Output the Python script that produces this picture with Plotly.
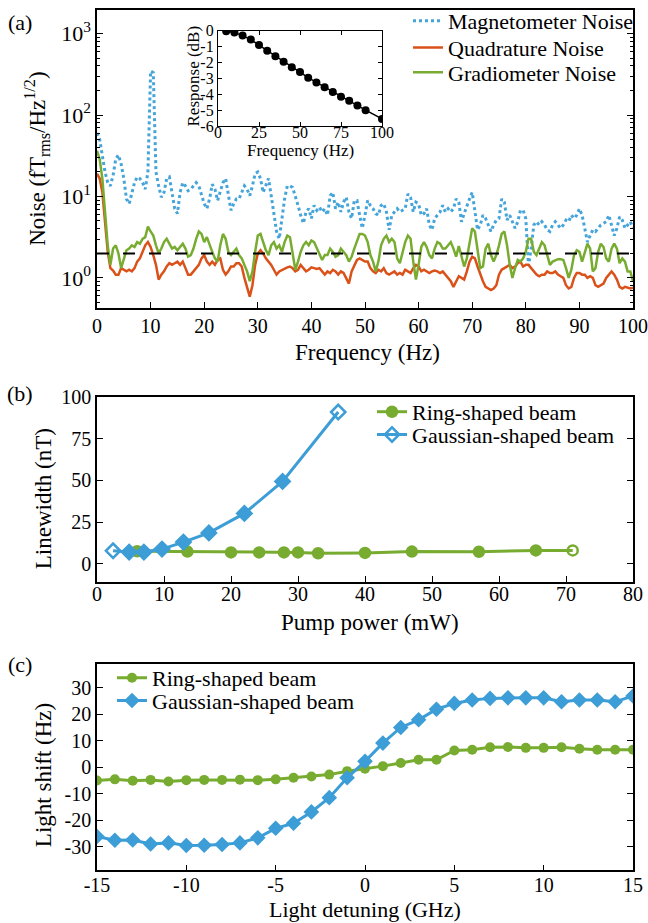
import numpy as np
import plotly.graph_objects as go

# ---------------- Panel (a) data: noise spectra (log10 of fT_rms/Hz^1/2, read every 0.5 Hz) -------------
freq_hz = np.linspace(0, 100, 201)

magnetometer_log10 = [
    1.78, 1.70, 1.50, 1.30, 1.17, 1.13, 1.26, 1.46, 1.51, 1.40,
    1.22, 0.97, 0.91, 1.05, 1.17, 1.24, 1.22, 1.17, 1.09, 1.30,
    2.54, 2.52, 1.30, 1.13, 0.99, 1.05, 1.22, 1.24, 1.05, 0.85,
    0.79, 1.05, 1.17, 1.13, 1.07, 1.09, 1.13, 1.17, 1.13, 1.01,
    0.91, 0.85, 0.97, 1.15, 1.09, 0.95, 1.05, 1.17, 1.22, 1.01,
    0.83, 0.91, 0.97, 0.97, 1.05, 1.13, 1.09, 1.01, 1.13, 1.28,
    1.30, 1.22, 1.05, 1.13, 1.22, 1.01, 0.81, 0.57, 0.48, 0.73,
    0.97, 1.13, 1.13, 1.11, 1.01, 0.89, 0.77, 0.67, 0.81, 0.85,
    0.73, 0.89, 0.83, 0.87, 0.81, 0.85, 0.77, 1.01, 1.05, 0.85,
    0.93, 0.81, 0.93, 0.99, 0.81, 0.73, 0.95, 0.95, 0.77, 0.61,
    0.77, 0.95, 0.89, 0.85, 0.79, 0.77, 0.89, 0.91, 0.81, 0.59,
    0.77, 0.81, 0.85, 0.81, 0.83, 0.85, 1.03, 0.99, 0.81, 0.93,
    0.91, 0.77, 0.79, 0.85, 0.65, 0.59, 0.73, 0.77, 0.81, 0.89,
    0.81, 0.85, 0.81, 0.85, 0.97, 0.93, 0.69, 0.79, 0.89, 0.97,
    1.05, 0.81, 0.59, 0.65, 0.77, 0.73, 0.65, 0.57, 0.65, 0.71,
    0.73, 0.97, 0.93, 0.71, 0.77, 0.69, 0.61, 0.69, 0.83, 0.83,
    0.73, 0.15, 0.36, 0.65, 0.69, 0.65, 0.69, 0.65, 0.59, 0.57,
    0.65, 0.69, 0.65, 0.61, 0.65, 0.71, 0.69, 0.77, 0.73, 0.77,
    0.85, 0.77, 0.61, 0.44, 0.52, 0.59, 0.57, 0.61, 0.65, 0.67,
    0.69, 0.77, 0.65, 0.52, 0.61, 0.75, 0.71, 0.61, 0.65, 0.69,
    0.61,
]

quadrature_log10 = [
    1.28, 1.22, 1.05, 0.73, 0.32, 0.12, 0.09, 0.04, 0.04, 0.12,
    0.10, 0.08, 0.10, 0.08, 0.12, 0.20, 0.24, 0.32, 0.40, 0.44,
    0.38, 0.28, 0.16, -0.02, 0.04, 0.08, 0.14, 0.18, 0.16, 0.18,
    0.20, 0.16, 0.20, 0.12, 0.04, 0.04, 0.08, 0.12, 0.16, 0.24,
    0.28, 0.20, 0.16, 0.20, 0.16, 0.22, 0.24, 0.10, 0.04, 0.08,
    0.14, 0.14, 0.18, 0.18, 0.14, 0.00, -0.13, -0.23, -0.09, 0.16,
    0.30, 0.34, 0.30, 0.24, 0.20, 0.16, 0.10, 0.04, 0.08, 0.10,
    0.12, 0.13, 0.14, 0.12, 0.08, 0.10, 0.16, 0.12, 0.08, 0.10,
    0.13, 0.12, 0.11, 0.12, 0.08, 0.04, 0.08, 0.06, 0.10, 0.08,
    0.04, 0.08, 0.06, 0.00, -0.07, 0.08, 0.16, 0.22, 0.24, 0.22,
    0.20, 0.20, 0.12, 0.08, 0.06, 0.10, 0.08, 0.12, 0.06, 0.04,
    0.06, 0.08, 0.04, 0.06, 0.04, 0.10, 0.08, 0.06, 0.12, 0.16,
    0.14, 0.08, 0.10, 0.08, 0.06, 0.08, 0.09, 0.08, 0.06, 0.08,
    0.04, 0.00, -0.04, -0.11, -0.05, 0.02, 0.00, -0.02, 0.08, 0.20,
    0.26, 0.24, 0.14, 0.04, -0.04, -0.11, -0.13, -0.15, -0.13, -0.09,
    0.04, 0.10, 0.12, 0.14, 0.16, 0.12, 0.14, 0.18, 0.20, 0.14,
    0.16, 0.16, 0.12, 0.08, 0.04, 0.02, 0.04, 0.04, 0.08, 0.06,
    0.06, 0.08, 0.04, 0.02, 0.00, -0.09, -0.13, -0.11, 0.00, 0.06,
    0.06, 0.04, 0.04, 0.00, 0.02, 0.00, -0.09, -0.11, -0.09, -0.07,
    0.00, 0.04, 0.08, 0.04, -0.02, -0.11, -0.13, -0.11, -0.12, -0.13,
    -0.12,
]

gradiometer_log10 = [
    1.56, 1.46, 1.22, 0.81, 0.40, 0.16, 0.36, 0.40, 0.30, 0.12,
    0.24, 0.34, 0.36, 0.40, 0.38, 0.44, 0.42, 0.48, 0.50, 0.63,
    0.57, 0.52, 0.40, 0.30, 0.36, 0.44, 0.48, 0.42, 0.36, 0.38,
    0.34, 0.38, 0.42, 0.36, 0.26, 0.28, 0.36, 0.48, 0.57, 0.54,
    0.44, 0.50, 0.40, 0.32, 0.24, 0.20, 0.40, 0.54, 0.48, 0.32,
    0.28, 0.32, 0.36, 0.28, 0.24, 0.16, 0.08, -0.04, 0.08, 0.32,
    0.52, 0.54, 0.44, 0.34, 0.28, 0.40, 0.44, 0.36, 0.40, 0.32,
    0.44, 0.52, 0.50, 0.28, 0.10, 0.20, 0.32, 0.40, 0.44, 0.40,
    0.46, 0.44, 0.36, 0.28, 0.22, 0.28, 0.28, 0.36, 0.32, 0.26,
    0.28, 0.36, 0.32, 0.28, 0.20, 0.26, 0.36, 0.44, 0.54, 0.54,
    0.52, 0.44, 0.28, 0.20, 0.08, 0.20, 0.40, 0.48, 0.52, 0.44,
    0.48, 0.44, 0.24, 0.18, 0.32, 0.44, 0.52, 0.48, 0.20, -0.02,
    0.16, 0.38, 0.44, 0.38, 0.28, 0.24, 0.36, 0.44, 0.42, 0.36,
    0.36, 0.40, 0.44, 0.36, 0.26, 0.39, 0.28, 0.14, 0.24, 0.44,
    0.61, 0.57, 0.36, 0.12, 0.14, 0.36, 0.42, 0.28, 0.20, 0.28,
    0.40, 0.54, 0.57, 0.40, 0.16, 0.00, 0.12, 0.22, 0.20, 0.24,
    0.32, 0.48, 0.48, 0.32, 0.28, 0.36, 0.44, 0.40, 0.28, 0.16,
    0.20, 0.22, 0.23, 0.23, 0.22, 0.12, 0.00, 0.10, 0.28, 0.34,
    0.32, 0.20, 0.32, 0.42, 0.36, 0.08, 0.12, 0.32, 0.42, 0.38,
    0.24, 0.20, 0.36, 0.42, 0.36, 0.18, 0.24, 0.20, 0.08, 0.08,
    -0.04,
]

reference_level = 2.0
reference_span = [0, 100]

# inset: frequency response
inset_freq = [5, 10, 15, 20, 25, 30, 35, 40, 45, 50, 55, 60, 65, 70, 75, 80, 85, 90, 100]
inset_resp_db = [-0.02, -0.1, -0.3, -0.55, -0.9, -1.25, -1.6, -1.95, -2.3, -2.6,
                 -2.95, -3.25, -3.55, -3.85, -4.15, -4.4, -4.7, -5.0, -5.55]

# ---------------- Panel (b) data ----------------
ring_power_mw = [6.0, 13.5, 20.0, 24.2, 27.9, 30.0, 33.0, 40.0, 47.0, 57.0, 65.5, 71.0]
ring_linewidth_nt = [7.5, 7.3, 6.8, 6.8, 6.8, 6.8, 6.3, 6.5, 7.3, 7.2, 8.0, 8.0]
gauss_power_mw = [2.4, 4.8, 7.0, 9.7, 12.9, 16.7, 22.0, 27.7, 36.0]
gauss_linewidth_nt = [7.8, 7.0, 7.0, 8.8, 13.0, 18.5, 30.2, 49.4, 91.0]

# ---------------- Panel (c) data ----------------
detuning_ghz = list(range(-15, 16))
ring_shift_hz = [-5.0, -4.6, -5.1, -4.8, -5.4, -4.9, -4.8, -4.8, -4.7, -4.9, -4.6, -4.0, -3.5, -2.8, -1.5,
                 -0.6, 0.4, 1.6, 2.8, 2.8, 6.3, 6.6, 7.5, 7.6, 7.3, 7.3, 7.5, 7.0, 6.6, 6.6, 6.6]
gauss_shift_hz = [-26.2, -27.6, -27.5, -29.0, -28.6, -29.6, -29.5, -29.2, -28.6, -26.7, -23.1, -21.2, -16.9,
                  -11.5, -4.0, 2.2, 9.1, 15.0, 17.9, 21.9, 24.1, 25.4, 26.0, 26.2, 26.2, 26.2, 24.7, 25.4,
                  25.4, 24.7, 26.9]

# ---------------- styling ----------------
FONT = "Liberation Serif, Times New Roman, Times, Nimbus Roman, DejaVu Serif, serif"
BLUE_DOT = "#45A5DA"
ORANGE = "#DA5119"
GREEN = "#77AC30"
BLUE = "#3D9DD6"
W, H = 648, 923


def px_x(p):
    return p / W


def px_y(p):
    return 1 - p / H


XDOM = [px_x(97), px_x(633)]
A_DOM = [px_y(303), px_y(3)]
B_DOM = [px_y(579), px_y(393)]
C_DOM = [px_y(870), px_y(662)]
INSET_X = [px_x(218), px_x(382)]
INSET_Y = [px_y(120), px_y(24)]

fig = go.Figure()


def leg(x, y):
    return dict(x=px_x(x), y=px_y(y), xanchor="left", yanchor="middle", bgcolor="rgba(0,0,0,0)",
                font=dict(family=FONT, size=22, color="black"), itemwidth=30, borderwidth=0)


# panel (a)
fig.add_trace(go.Scatter(x=freq_hz, y=10 ** np.array(magnetometer_log10), mode="lines",
                         name="Magnetometer Noise", line=dict(color=BLUE_DOT, width=3, dash="3px,3px"),
                         xaxis="x", yaxis="y", legend="legend"))
fig.add_trace(go.Scatter(x=freq_hz, y=10 ** np.array(quadrature_log10), mode="lines",
                         name="Quadrature Noise", line=dict(color=ORANGE, width=2.5),
                         xaxis="x", yaxis="y", legend="legend2"))
fig.add_trace(go.Scatter(x=freq_hz, y=10 ** np.array(gradiometer_log10), mode="lines",
                         name="Gradiometer Noise", line=dict(color=GREEN, width=2.5),
                         xaxis="x", yaxis="y", legend="legend3"))
fig.add_trace(go.Scatter(x=reference_span, y=[reference_level] * 2, mode="lines", showlegend=False,
                         line=dict(color="black", width=2, dash="12px,14px"), xaxis="x", yaxis="y"))

# inset
fig.add_trace(go.Scatter(x=inset_freq, y=inset_resp_db, mode="lines+markers", showlegend=False,
                         line=dict(color="black", width=1.5), marker=dict(color="black", size=8),
                         xaxis="x4", yaxis="y4"))

# panel (b)
ring_b_symbols = ["circle"] * (len(ring_power_mw) - 1) + ["circle-open"]
gauss_b_symbols = ["diamond-open"] + ["diamond"] * (len(gauss_power_mw) - 2) + ["diamond-open"]
fig.add_trace(go.Scatter(x=ring_power_mw, y=ring_linewidth_nt, mode="lines+markers", name="Ring-shaped beam",
                         line=dict(color=GREEN, width=3),
                         marker=dict(symbol=ring_b_symbols, size=10, color=GREEN, line=dict(color=GREEN, width=2.5)),
                         xaxis="x2", yaxis="y2", legend="legend4"))
fig.add_trace(go.Scatter(x=gauss_power_mw, y=gauss_linewidth_nt, mode="lines+markers", name="Gaussian-shaped beam",
                         line=dict(color=BLUE, width=3),
                         marker=dict(symbol=gauss_b_symbols, size=11, color=BLUE, line=dict(color=BLUE, width=2.5)),
                         xaxis="x2", yaxis="y2", legend="legend5"))

# panel (c)
fig.add_trace(go.Scatter(x=detuning_ghz, y=ring_shift_hz, mode="lines+markers", name="Ring-shaped beam",
                         line=dict(color=GREEN, width=3), marker=dict(symbol="circle", size=10, color=GREEN),
                         xaxis="x3", yaxis="y3", legend="legend6"))
fig.add_trace(go.Scatter(x=detuning_ghz, y=gauss_shift_hz, mode="lines+markers", name="Gaussian-shaped beam",
                         line=dict(color=BLUE, width=3), marker=dict(symbol="diamond", size=12, color=BLUE),
                         xaxis="x3", yaxis="y3", legend="legend7"))

axis_common = dict(showline=True, linecolor="black", linewidth=1.5, ticks="inside", ticklen=6,
                   tickwidth=1.2, tickcolor="black", showgrid=False, zeroline=False, automargin=False,
                   tickfont=dict(family=FONT, size=20, color="black"))

fig.update_layout(
    template="none",
    width=W, height=H, margin=dict(l=0, r=0, t=0, b=0, pad=0), autosize=False,
    paper_bgcolor="white", plot_bgcolor="white",
    font=dict(family=FONT, color="black"),
    xaxis=dict(axis_common, domain=XDOM, anchor="y", range=[0, 100], tickvals=list(range(0, 101, 10)),
               mirror=True),
    yaxis=dict(axis_common, domain=A_DOM, anchor="x", type="log", range=[-0.366, 3.29],
               tickvals=[1, 10, 100, 1000],
               ticktext=["10<sup>0</sup>", "10<sup>1</sup>", "10<sup>2</sup>", "10<sup>3</sup>"],
               tickfont=dict(family=FONT, size=22, color="black"),
               minor=dict(ticks="inside", ticklen=3.5, tickcolor="black", tickwidth=1,
                          tickvals=[m * 10 ** e for e in range(-1, 4) for m in range(2, 10)]),
               mirror="ticks"),
    xaxis2=dict(axis_common, domain=XDOM, anchor="y2", range=[0, 80], tickvals=list(range(0, 81, 10)),
                mirror=True, ticklabelstandoff=-6),
    yaxis2=dict(axis_common, domain=B_DOM, anchor="x2", range=[-10.7, 100], tickvals=[0, 25, 50, 75, 100],
                mirror="ticks"),
    xaxis3=dict(axis_common, domain=XDOM, anchor="y3", range=[-15, 15], tickvals=[-15, -10, -5, 0, 5, 10, 15],
                ticktext=["-15", "-10", "-5", "0", "5", "10", "15"], mirror=True, ticklabelstandoff=-4),
    yaxis3=dict(axis_common, domain=C_DOM, anchor="x3", range=[-39, 39], tickvals=[-30, -20, -10, 0, 10, 20, 30],
                ticktext=["-30", "-20", "-10", "0", "10", "20", "30"], mirror="ticks"),
    xaxis4=dict(axis_common, domain=INSET_X, anchor="y4", range=[0, 100], tickvals=[0, 25, 50, 75, 100],
                tickfont=dict(family=FONT, size=16, color="black"), ticklen=4, linewidth=1.2, mirror="ticks",
                ticklabelstandoff=-8),
    yaxis4=dict(axis_common, domain=INSET_Y, anchor="x4", range=[-6, 0], tickvals=[0, -1, -2, -3, -4, -5, -6],
                ticktext=["0", "-1", "-2", "-3", "-4", "-5", "-6"],
                tickfont=dict(family=FONT, size=16, color="black"), ticklen=4, linewidth=1.2, mirror="ticks"),
    legend=leg(408, 14),
    legend2=leg(408, 41),
    legend3=leg(408, 66),
    legend4=leg(372, 408),
    legend5=leg(372, 431),
    legend6=leg(112, 676),
    legend7=leg(112, 699),
)

annotations = [
    dict(text="(a)", x=px_x(20), y=px_y(16)),
    dict(text="(b)", x=px_x(20), y=px_y(389)),
    dict(text="(c)", x=px_x(20), y=px_y(663)),
    dict(text="Noise (fT<sub>rms</sub>/Hz<sup>1/2</sup>)", x=px_x(37), y=px_y(153), textangle=-90, size=23),
    dict(text="Frequency (Hz)", x=px_x(367), y=px_y(348), size=23),
    dict(text="Linewidth (nT)", x=px_x(43), y=px_y(496), textangle=-90, size=23),
    dict(text="Pump power (mW)", x=px_x(370), y=px_y(620), size=23),
    dict(text="Light shift (Hz)", x=px_x(43), y=px_y(774), textangle=-90, size=23),
    dict(text="Light detuning (GHz)", x=px_x(365), y=px_y(909), size=22),
    dict(text="Response (dB)", x=px_x(193), y=px_y(70), textangle=-90, size=17),
    dict(text="Frequency (Hz)", x=px_x(300), y=px_y(145), size=17),
]
for a in annotations:
    size = a.pop("size", 22)
    fig.add_annotation(xref="paper", yref="paper", showarrow=False, xanchor="center", yanchor="middle",
                       font=dict(family=FONT, size=size, color="black"), **a)

fig.write_html("out.html", config={"displayModeBar": False},
               post_script="document.body.style.margin='0px';document.body.style.padding='0px';")
